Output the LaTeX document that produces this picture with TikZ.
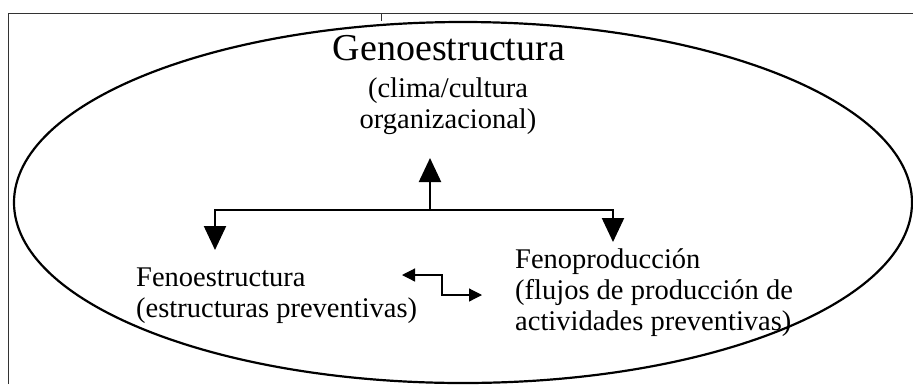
\documentclass[tikz,border=0pt]{standalone}
\usepackage{fontspec}
\setmainfont{Liberation Serif}
\usetikzlibrary{arrows.meta}
\begin{document}
\begin{tikzpicture}[x=1pt,y=-1pt,>={Triangle[width=22pt,length=24pt]},
    flecha/.style={->,line width=2.2pt},
    flechita/.style={{Triangle[width=13pt,length=13pt]}-{Triangle[width=13pt,length=13pt]},line width=1.2pt},
    marco/.style={draw=black!80,line width=1pt},
    texto/.style={inner sep=0pt,font=\fontsize{28.5}{31}\selectfont}]
    \useasboundingbox (0,0) rectangle (913,384);
    \draw[marco] (8,384) -- (8,13) -- (913,13);
    \draw[marco] (381,13) -- (381,21);
    \draw[line width=2.2pt] (463,202.5) ellipse [x radius=449pt, y radius=180.5pt];
    % textos
    \node[anchor=base,inner sep=0pt,font=\fontsize{38}{38}\selectfont] (geno) at (449,60) {Genoestructura};
    \node[texto,align=center,anchor=north] (clima) at (448,76) {\strut(clima/cultura\\organizacional)};
    \node[texto,align=left,anchor=north west] (fenoE) at (136,265) {\strut Fenoestructura\\(estructuras preventivas)};
    \node[texto,align=left,anchor=north west] (fenoP) at (515,247) {\strut Fenoproducci\'on\\(flujos de producci\'on de\\actividades preventivas)};
    % flechas
    \coordinate (junta) at (430,210);
    \coordinate (arriba) at (430,158);
    \coordinate (puntaE) at (215,250);
    \coordinate (puntaP) at (613,242);
    \draw[flecha] (junta) -- (arriba);
    \draw[flecha] (junta) -| (puntaE);
    \draw[flecha] (junta) -| (puntaP);
    \coordinate (izq) at (402,275);
    \coordinate (der) at (482,295);
    \draw[flechita] (izq) -- (442,275) |- (der);
\end{tikzpicture}
\end{document}
